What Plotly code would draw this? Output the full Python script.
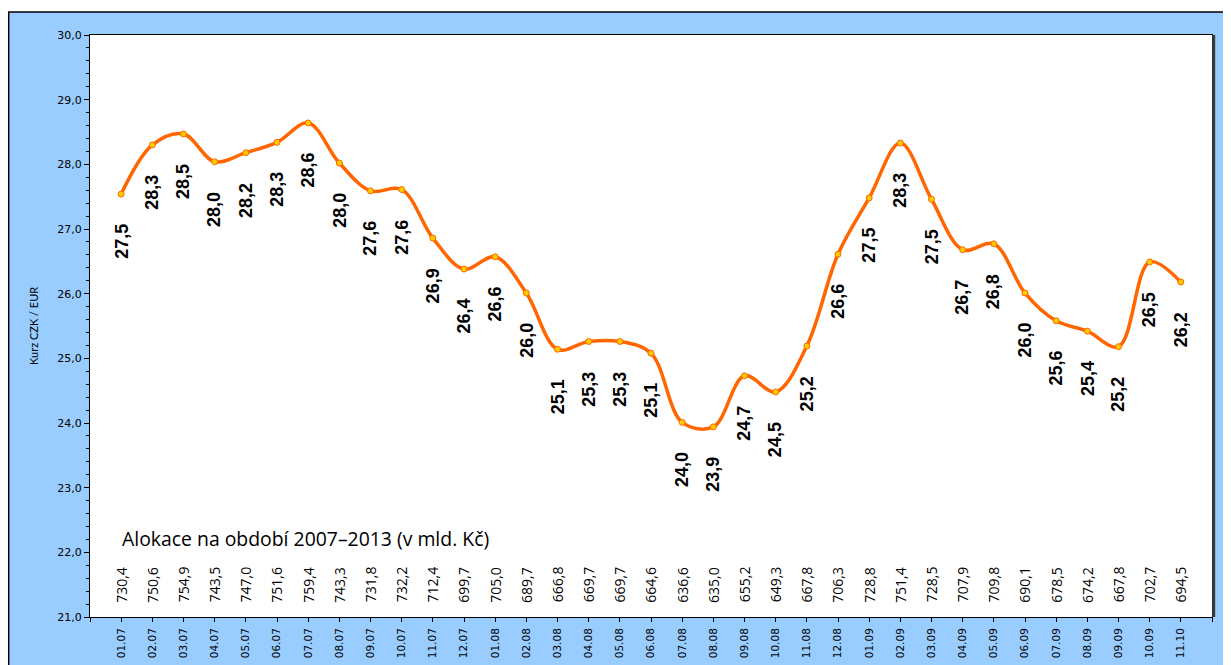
import plotly.graph_objects as go

months = ["01.07", "02.07", "03.07", "04.07", "05.07", "06.07", "07.07", "08.07", "09.07", "10.07", "11.07", "12.07",
          "01.08", "02.08", "03.08", "04.08", "05.08", "06.08", "07.08", "08.08", "09.08", "10.08", "11.08", "12.08",
          "01.09", "02.09", "03.09", "04.09", "05.09", "06.09", "07.09", "08.09", "09.09", "10.09", "11.10"]

kurz = [27.54, 28.30, 28.47, 28.04, 28.18, 28.34, 28.64, 28.02, 27.59, 27.61, 26.86, 26.38,
        26.57, 26.01, 25.14, 25.26, 25.26, 25.08, 24.01, 23.94, 24.73, 24.48, 25.19, 26.61,
        27.48, 28.33, 27.46, 26.68, 26.77, 26.01, 25.58, 25.42, 25.18, 26.49, 26.18]

alokace = [730.4, 750.6, 754.9, 743.5, 747.0, 751.6, 759.4, 743.3, 731.8, 732.2, 712.4, 699.7,
           705.0, 689.7, 666.8, 669.7, 669.7, 664.6, 636.6, 635.0, 655.2, 649.3, 667.8, 706.3,
           728.8, 751.4, 728.5, 707.9, 709.8, 690.1, 678.5, 674.2, 667.8, 702.7, 694.5]

y_ticks = [21, 22, 23, 24, 25, 26, 27, 28, 29, 30]

def cz(v):
    return f"{v:.1f}".replace(".", ",")

idx = list(range(len(months)))

fig = go.Figure()
fig.add_trace(go.Scatter(
    x=idx, y=kurz, mode="lines+markers",
    line=dict(color="#FF6600", width=3.5, shape="spline", smoothing=1.0),
    marker=dict(size=6, color="#FFCC00", line=dict(color="#FF6600", width=1)),
    hoverinfo="skip", showlegend=False,
))

annotations = []
for i, v in zip(idx, kurz):
    annotations.append(dict(
        x=i, y=v, xref="x", yref="y", text=cz(v), showarrow=False,
        textangle=-90, xanchor="center", yanchor="top", yshift=-28,
        font=dict(family="Liberation Sans", size=18, color="black", weight="bold"),
    ))
for i, a in zip(idx, alokace):
    annotations.append(dict(
        x=i, y=21.5, xref="x", yref="y", text=cz(a), showarrow=False,
        textangle=-90, xanchor="center", yanchor="middle",
        font=dict(family="Open Sans", size=14, color="black"),
    ))

# figure is placed by the page at an 8px offset
W, H = 1223, 657
L, R, T, B = 82, 19, 27, 48
pw, ph = W - L - R, H - T - B

def px_x(p):
    return (p - L) / pw

def px_y(p):
    return (H - B - p) / ph

annotations.append(dict(
    x=px_x(112), y=px_y(530), xref="paper", yref="paper",
    text="Alokace na období 2007–2013 (v mld. Kč)", showarrow=False,
    xanchor="left", yanchor="middle",
    font=dict(family="Open Sans", size=19.4, color="black"),
))
annotations.append(dict(
    x=px_x(25), y=0.5, xref="paper", yref="paper",
    text="Kurz CZK / EUR", showarrow=False, textangle=-90,
    xanchor="center", yanchor="middle",
    font=dict(family="Lato", size=11, color="black"),
))

shapes = [
    dict(type="rect", xref="paper", yref="paper", layer="below",
         x0=px_x(0.7), x1=px_x(W + 20), y0=px_y(H + 20), y1=px_y(4),
         fillcolor="#99CCFF", line=dict(color="black", width=1.5)),
    dict(type="rect", xref="paper", yref="paper", layer="below",
         x0=0, x1=1, y0=0, y1=1, fillcolor="white", line=dict(width=0)),
    dict(type="line", xref="paper", yref="paper", layer="above",
         x0=1.0015, x1=1.0015, y0=0, y1=1, line=dict(color="#3a3a3a", width=3)),
]

fig.update_layout(
    width=W, height=H,
    margin=dict(l=L, r=R, t=T, b=B, autoexpand=False),
    paper_bgcolor="white", plot_bgcolor="white",
    separators=", ",
    annotations=annotations,
    shapes=shapes,
    xaxis=dict(
        range=[-1, 35], tickmode="array", tickvals=idx, ticktext=months,
        tickangle=-90, ticks="outside", ticklen=4, tickcolor="black",
        showline=True, linecolor="black", linewidth=1, mirror=True,
        showgrid=False, zeroline=False, ticklabelstandoff=2, automargin=False,
        tickfont=dict(family="DejaVu Sans", size=10.5, color="black"),
        minor=dict(tickmode="array", tickvals=[-1, 35], ticks="outside", ticklen=4, tickcolor="black"),
    ),
    yaxis=dict(
        range=[21, 30], tickmode="array", tickvals=y_ticks, tickformat=".1f",
        ticks="outside", ticklen=5, tickcolor="black",
        showline=True, linecolor="black", linewidth=1, mirror=True,
        showgrid=False, zeroline=False, automargin=False,
        tickfont=dict(family="DejaVu Sans", size=11, color="black"),
        minor=dict(dtick=0.2, ticks="outside", ticklen=3, tickcolor="black"),
    ),
)

fig.write_html("out.html")
